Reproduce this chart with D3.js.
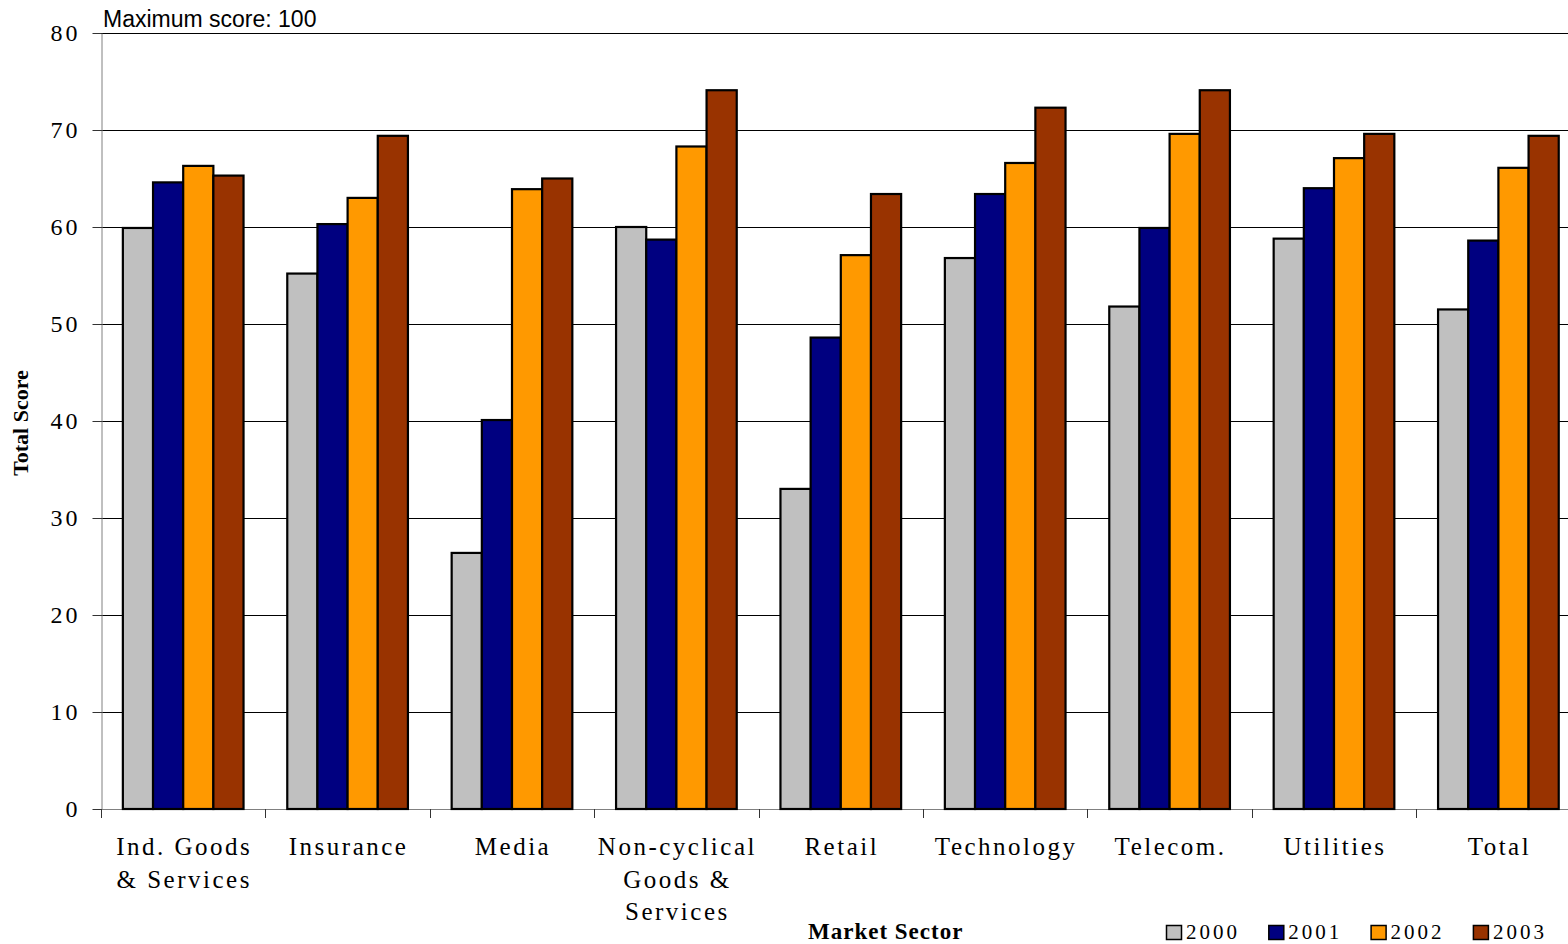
<!DOCTYPE html>
<html>
<head>
<meta charset="utf-8">
<script src="https://cdn.jsdelivr.net/npm/d3@7"></script>
<style>
  body { margin: 0; background: #fff; }
  svg { display: block; }
</style>
</head>
<body>
<svg class="scorechart"></svg>
<script>
// TOTAL SCORE BY MARKET SECTOR, 2000-2003

let sectors = ["Ind. Goods & Services", "Insurance", "Media", "Non-cyclical Goods & Services",
               "Retail", "Technology", "Telecom.", "Utilities", "Total"];
// tick labels as they wrap in the original
let sector_labels = [["Ind. Goods", "& Services"], ["Insurance"], ["Media"],
                     ["Non-cyclical", "Goods &", "Services"], ["Retail"], ["Technology"],
                     ["Telecom."], ["Utilities"], ["Total"]];
let years = ["2000", "2001", "2002", "2003"];
let scores_2000 = [59.9, 55.2, 26.4, 60.0, 33.0, 56.8, 51.8, 58.8, 51.5];
let scores_2001 = [64.6, 60.3, 40.1, 58.7, 48.6, 63.4, 59.9, 64.0, 58.6];
let scores_2002 = [66.3, 63.0, 63.9, 68.3, 57.1, 66.6, 69.6, 67.1, 66.1];
let scores_2003 = [65.3, 69.4, 65.0, 74.1, 63.4, 72.3, 74.1, 69.6, 69.4];
let y_ticks = [0, 10, 20, 30, 40, 50, 60, 70, 80];

let w = 1568;
let h = 944;

let svg = d3.select("svg.scorechart")
    .attr("width", w)
    .attr("height", h);

function score_plot() {
    let left = 101;
    let top_space = 33;
    let base = 809;
    let plot_right = 1580.6; // last category runs past the window edge

    let colors = ["#c0c0c0", "#000080", "#ff9900", "#993300"];
    let series = [scores_2000, scores_2001, scores_2002, scores_2003];

    let table = sectors.map((s, i) => ({
        sector: s,
        values: years.map((yr, j) => ({year: yr, value: series[j][i]}))
    }));

    let y = d3.scaleLinear()
        .domain([0, 80])
        .range([base, top_space]);

    let x0 = d3.scaleBand()
        .domain(sectors)
        .range([left, plot_right])
        .paddingInner(0.266)
        .paddingOuter(0.133);

    let x1 = d3.scaleBand()
        .domain(years)
        .range([0, x0.bandwidth()]);

    let color = d3.scaleOrdinal().domain(years).range(colors);

    // gridlines
    svg.append("g")
        .attr("class", "grid")
        .selectAll("line")
        .data(y_ticks.filter(d => d > 0))
        .enter()
        .append("line")
        .attr("x1", left)
        .attr("x2", w)
        .attr("y1", d => Math.round(y(d)) + 0.5)
        .attr("y2", d => Math.round(y(d)) + 0.5)
        .attr("stroke", "#000")
        .attr("stroke-width", 1);

    // y axis
    let y_axis = svg.append("g")
        .attr("transform", "translate(" + (left + 0.5) + ",0)")
        .call(d3.axisLeft(y).tickValues(y_ticks).tickSize(9).tickSizeOuter(0).tickPadding(12));
    y_axis.select(".domain").attr("stroke", "#808080");
    y_axis.selectAll(".tick line").attr("stroke", "#333");
    y_axis.selectAll(".tick text")
        .attr("font-family", "'Liberation Serif', 'Times New Roman', serif")
        .attr("font-size", "24px")
        .attr("letter-spacing", "3px")
        .attr("fill", "#000");

    // x axis baseline and category boundary ticks
    let gap = (x0.step() - x0.bandwidth()) / 2;
    let bounds = sectors.map(s => x0(s) - gap).concat([x0(sectors[sectors.length - 1]) + x0.bandwidth() + gap]);

    let x_axis = svg.append("g").attr("class", "xaxis");
    x_axis.append("line")
        .attr("x1", left)
        .attr("x2", w)
        .attr("y1", base + 0.5)
        .attr("y2", base + 0.5)
        .attr("stroke", "#808080");
    x_axis.selectAll("line.tick")
        .data(bounds)
        .enter()
        .append("line")
        .attr("class", "tick")
        .attr("x1", d => Math.round(d) + 0.5)
        .attr("x2", d => Math.round(d) + 0.5)
        .attr("y1", base)
        .attr("y2", base + 9)
        .attr("stroke", "#333");

    // bars
    let groups = svg.append("g")
        .attr("class", "bars")
        .selectAll("g")
        .data(table)
        .enter()
        .append("g")
        .attr("transform", d => "translate(" + x0(d.sector) + ",0)");

    groups.selectAll("rect")
        .data(d => d.values)
        .enter()
        .append("rect")
        .attr("x", d => x1(d.year))
        .attr("y", d => y(d.value))
        .attr("width", x1.bandwidth())
        .attr("height", d => base - y(d.value))
        .attr("fill", d => color(d.year))
        .attr("stroke", "#000")
        .attr("stroke-width", 2.2);

    // category labels
    let labels = svg.append("g")
        .attr("class", "xlabels")
        .selectAll("text")
        .data(sectors)
        .enter()
        .append("text")
        .attr("x", d => x0(d) + x0.bandwidth() / 2 + 1)
        .attr("y", 855)
        .attr("text-anchor", "middle")
        .attr("font-family", "'Liberation Serif', 'Times New Roman', serif")
        .attr("font-size", "25px")
        .attr("letter-spacing", "2.5px")
        .attr("fill", "#000");

    labels.each(function(d, i) {
        let t = d3.select(this);
        sector_labels[i].forEach((line, k) => {
            t.append("tspan")
                .attr("x", x0(d) + x0.bandwidth() / 2 + 1)
                .attr("dy", k == 0 ? 0 : 32.5)
                .text(line);
        });
    });

    // note at top
    svg.append("text")
        .attr("x", 103)
        .attr("y", 27)
        .text("Maximum score: 100")
        .attr("font-family", "'Liberation Sans', Arial, sans-serif")
        .attr("font-size", "23px")
        .attr("fill", "#000");

    // y axis label
    svg.append("g")
        .attr("transform", "translate(28," + 423 + ") rotate(-90)")
        .append("text")
        .text("Total Score")
        .attr("font-family", "'Liberation Serif', 'Times New Roman', serif")
        .attr("font-size", "22px")
        .attr("font-weight", "bold")
        .attr("text-anchor", "middle");

    // x axis label
    svg.append("text")
        .attr("x", 808)
        .attr("y", 939)
        .text("Market Sector")
        .attr("font-family", "'Liberation Serif', 'Times New Roman', serif")
        .attr("font-size", "23px")
        .attr("font-weight", "bold")
        .attr("letter-spacing", "1px");

    // legend
    let legend = svg.append("g")
        .attr("class", "legend")
        .selectAll("g")
        .data(years)
        .enter()
        .append("g")
        .attr("transform", (d, i) => "translate(" + (1166 + i * 102.3) + ",925)");

    legend.append("rect")
        .attr("x", 0.5)
        .attr("y", 0.5)
        .attr("width", 15)
        .attr("height", 14)
        .attr("fill", d => color(d))
        .attr("stroke", "#000")
        .attr("stroke-width", 1.5);

    legend.append("text")
        .attr("x", 20)
        .attr("y", 14)
        .text(d => d)
        .attr("font-family", "'Liberation Serif', 'Times New Roman', serif")
        .attr("font-size", "21px")
        .attr("letter-spacing", "3px");
}

score_plot();
</script>
</body>
</html>
